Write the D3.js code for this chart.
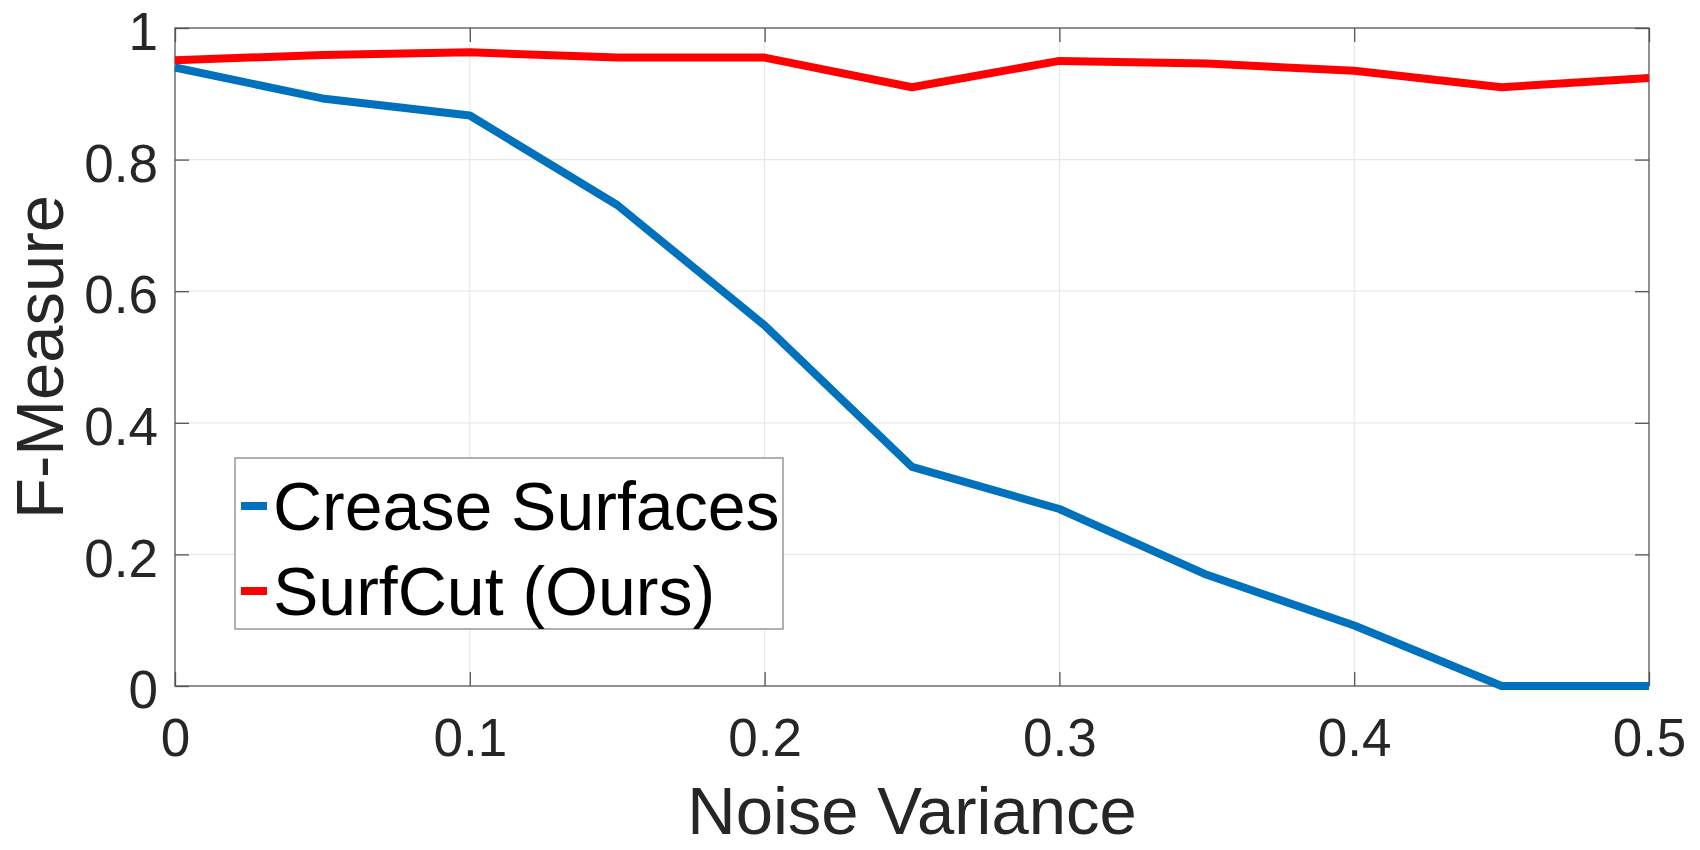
<!DOCTYPE html>
<html>
<head>
<meta charset="utf-8">
<script src="https://cdn.jsdelivr.net/npm/d3@7"></script>
<style>
  html, body { margin: 0; padding: 0; background: #fff; }
  svg { display: block; }
  text { font-family: "Liberation Sans", Arial, Helvetica, sans-serif; }
</style>
</head>
<body>
<svg id="chart" width="1700" height="850"></svg>
<script>
// ---- Data ----
const noiseVariance = [0, 0.05, 0.1, 0.15, 0.2, 0.25, 0.3, 0.35, 0.4, 0.45, 0.5];
const creaseSurfaces = [0.940, 0.893, 0.867, 0.731, 0.548, 0.333, 0.269, 0.169, 0.092, 0.0, 0.0];
const surfCut = [0.951, 0.959, 0.963, 0.955, 0.955, 0.910, 0.950, 0.946, 0.935, 0.910, 0.924];
const seriesNames = ["Crease Surfaces", "SurfCut (Ours)"];
const seriesColors = ["#0072BD", "#FF0000"];
const xTicks = [0, 0.1, 0.2, 0.3, 0.4, 0.5];
const yTicks = [0, 0.2, 0.4, 0.6, 0.8, 1];
const xTitle = "Noise Variance";
const yTitle = "F-Measure";

// ---- Layout ----
const pLeft = 175, pRight = 1649, pTop = 28, pBottom = 686;
const svg = d3.select("#chart");

const x = d3.scaleLinear().domain([0, 0.5]).range([pLeft, pRight]);
const y = d3.scaleLinear().domain([0, 1]).range([pBottom, pTop]);

// grid
const grid = svg.append("g");
grid.selectAll("line.gx").data(xTicks.filter(d => d > 0 && d < 0.5)).join("line")
  .attr("x1", d => x(d)).attr("x2", d => x(d)).attr("y1", pTop).attr("y2", pBottom)
  .attr("stroke", "#e8e8e8").attr("stroke-width", 1.2);
grid.selectAll("line.gy").data(yTicks.filter(d => d > 0 && d < 1)).join("line")
  .attr("x1", pLeft).attr("x2", pRight).attr("y1", d => y(d)).attr("y2", d => y(d))
  .attr("stroke", "#e8e8e8").attr("stroke-width", 1.2);

// axes
const fmt = d => d === 0 ? "0" : d === 1 ? "1" : d3.format(".1f")(d);
const axisStyle = g => {
  g.select(".domain").remove();
  g.selectAll(".tick line").attr("stroke", "#555").attr("stroke-width", 1.3);
  g.selectAll(".tick text").attr("fill", "#262626").attr("font-size", 53)
    .attr("font-family", "'Liberation Sans', Arial, sans-serif");
};
svg.append("g").attr("transform", `translate(0,${pBottom})`)
  .call(d3.axisBottom(x).tickValues(xTicks).tickFormat(fmt).tickSize(-14).tickPadding(32))
  .call(axisStyle);
svg.append("g").attr("transform", `translate(0,${pTop})`)
  .call(d3.axisTop(x).tickValues(xTicks).tickFormat("").tickSize(-14))
  .call(axisStyle);
svg.append("g").attr("transform", `translate(${pLeft},0)`)
  .call(d3.axisLeft(y).tickValues(yTicks).tickFormat(fmt).tickSize(-14).tickPadding(17))
  .call(axisStyle)
  .call(g => g.selectAll(".tick text").attr("dy", "0.41em"));
svg.append("g").attr("transform", `translate(${pRight},0)`)
  .call(d3.axisRight(y).tickValues(yTicks).tickFormat("").tickSize(-14))
  .call(axisStyle);

// box
svg.append("rect").attr("x", pLeft).attr("y", pTop)
  .attr("width", pRight - pLeft).attr("height", pBottom - pTop)
  .attr("fill", "none").attr("stroke", "#555").attr("stroke-width", 1.3);

// lines
const allSeries = [creaseSurfaces, surfCut];
const line = d3.line().x((d, i) => x(noiseVariance[i])).y(d => y(d));
svg.append("g").selectAll("path").data(allSeries).join("path")
  .attr("d", d => line(d))
  .attr("fill", "none")
  .attr("stroke", (d, i) => seriesColors[i])
  .attr("stroke-width", 8)
  .attr("stroke-linejoin", "round")
  .attr("stroke-linecap", "butt");

// titles
svg.append("text").attr("x", (pLeft + pRight) / 2).attr("y", 834)
  .attr("text-anchor", "middle").attr("font-size", 67).attr("fill", "#262626")
  .text(xTitle);
svg.append("text").attr("transform", `translate(63,${(pTop + pBottom) / 2}) rotate(-90)`)
  .attr("text-anchor", "middle").attr("font-size", 67).attr("fill", "#262626")
  .text(yTitle);

// legend
const lg = svg.append("g");
lg.append("rect").attr("x", 235).attr("y", 458).attr("width", 548).attr("height", 171)
  .attr("fill", "#fff").attr("stroke", "#888").attr("stroke-width", 1.3);
const baselines = [530, 615];
seriesNames.forEach((name, i) => {
  lg.append("line").attr("x1", 241).attr("x2", 267)
    .attr("y1", baselines[i] - 24).attr("y2", baselines[i] - 24)
    .attr("stroke", seriesColors[i]).attr("stroke-width", 8);
  lg.append("text")
    .attr("x", 273).attr("y", baselines[i])
    .attr("font-size", 68).attr("fill", "#000")
    .text(name);
});
</script>
</body>
</html>
